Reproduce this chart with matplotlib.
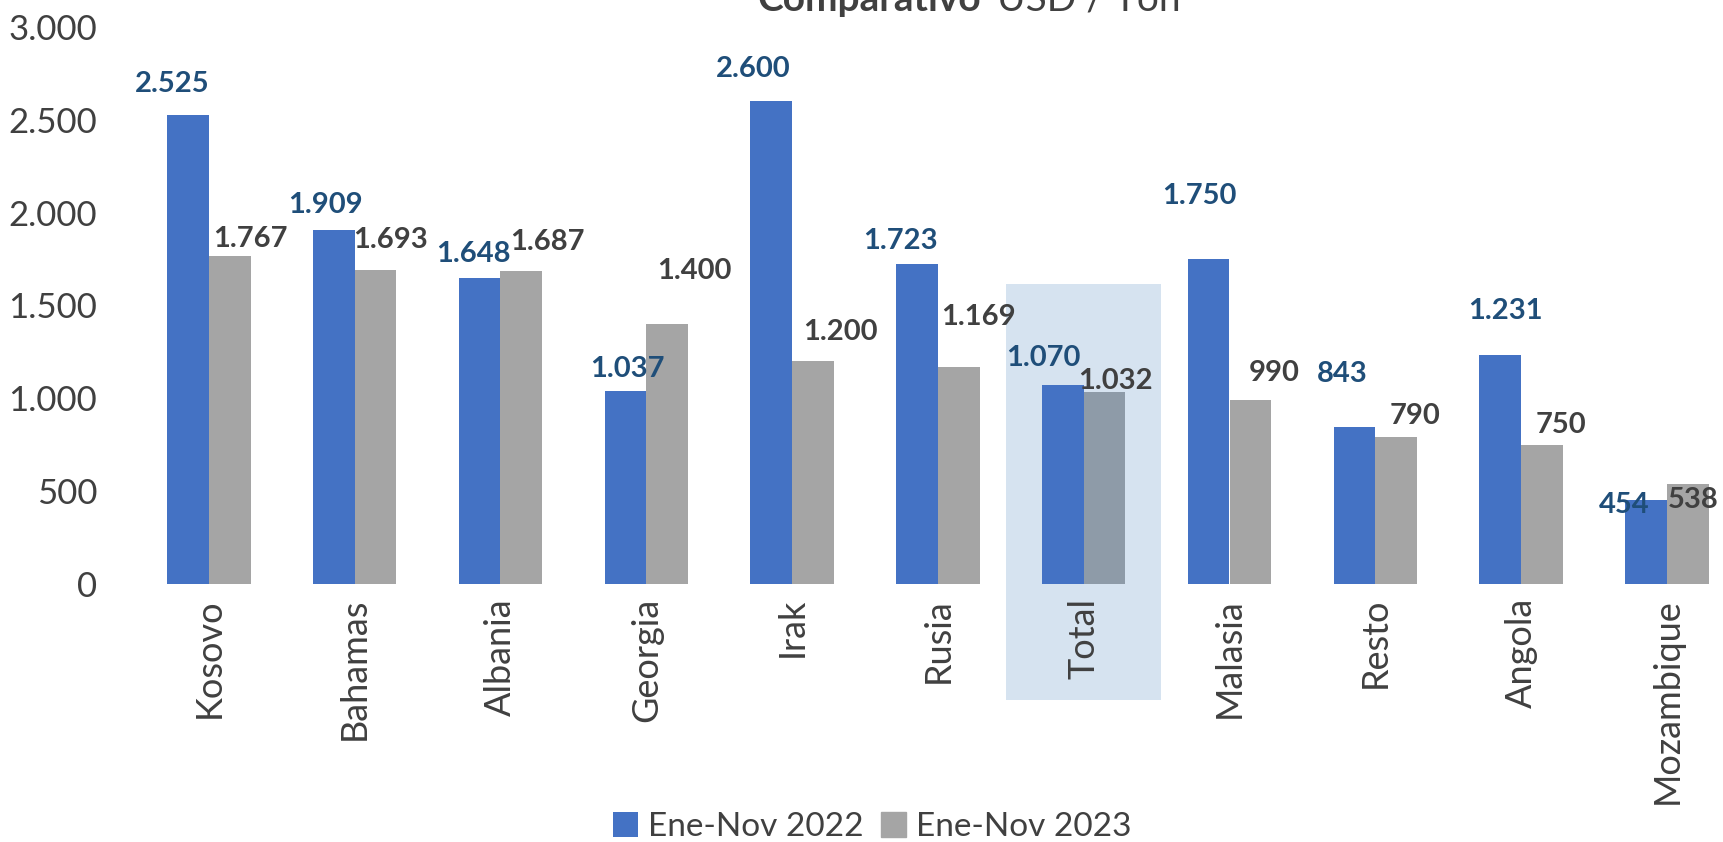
import matplotlib
matplotlib.use("Agg")
import matplotlib.pyplot as plt
from matplotlib.patches import Rectangle
import numpy as np

plt.rcParams['font.family'] = ['Lato', 'DejaVu Sans']

categories = ["Kosovo", "Bahamas", "Albania", "Georgia", "Irak", "Rusia",
              "Total", "Malasia", "Resto", "Angola", "Mozambique"]
values_2022 = [2525, 1909, 1648, 1037, 2600, 1723, 1070, 1750, 843, 1231, 454]
values_2023 = [1767, 1693, 1687, 1400, 1200, 1169, 1032, 990, 790, 750, 538]
series_names = ["Ene-Nov 2022", "Ene-Nov 2023"]
yticks = [0, 500, 1000, 1500, 2000, 2500, 3000]

# label offsets (pixels, relative to bar top centre) - layout only
S = 1724 / 1568
off_2022 = [(-14, 28), (-8, 22), (-6, 22), (2, 20), (-16, 29), (-15, 21),
            (-18, 25), (-8, 57), (-11, 49), (5, 40), (-20, -5)]
off_2023 = [(19, 15), (14, 27), (24, 26), (25, 48), (25, 27), (18, 45),
            (10, 10), (22, 25), (17, 19), (17, 18), (5, -14)]

W, H = 1724, 842
fig = plt.figure(figsize=(W / 100, H / 100), dpi=100)
left_px, bottom_px, top_px = 136, 584, 27
ax = fig.add_axes([left_px / W, 1 - bottom_px / H, 1 - left_px / W,
                   (bottom_px - top_px) / H])

blue = "#4472C4"
gray = "#A5A5A5"
total_gray = "#8E9BA8"
bw = 0.2866
x = np.arange(len(categories))
ti = categories.index("Total")

ax.set_ylim(0, 3000)
ax.set_xlim(-0.5, (W - left_px) / 145.8 - 0.5)

# highlight box for Total
ppu = (bottom_px - top_px) / 3000.0
ybot = (bottom_px - 700) / ppu
ytop = (bottom_px - 284) / ppu
box = Rectangle((ti - 0.53, ybot), 1.06, ytop - ybot, facecolor="#D6E3F0",
                edgecolor="none", zorder=0, clip_on=False)
ax.add_patch(box)

c23 = [total_gray if i == ti else gray for i in range(len(categories))]
ax.bar(x - bw / 2, values_2022, bw, color=blue, label=series_names[0], zorder=2)
ax.bar(x + bw / 2, values_2023, bw, color=c23, label=series_names[1], zorder=2)

for i in range(len(categories)):
    dx, dy = off_2022[i]
    ax.annotate(f"{values_2022[i]:,}".replace(",", "."), (x[i] - bw / 2, values_2022[i]),
                xytext=(dx * S, dy * S), textcoords="offset pixels",
                ha="center", va="center", fontsize=21, fontweight="bold",
                color="#1F4E79", zorder=5)
    dx, dy = off_2023[i]
    ax.annotate(f"{values_2023[i]:,}".replace(",", "."), (x[i] + bw / 2, values_2023[i]),
                xytext=(dx * S, dy * S), textcoords="offset pixels",
                ha="center", va="center", fontsize=21, fontweight="bold",
                color="#404040", zorder=5)

ax.set_yticks(yticks)
ax.set_yticklabels([f"{v:,}".replace(",", ".") for v in yticks], fontsize=25, color="#404040")
ax.set_xticks(x)
ax.set_xticklabels(categories, rotation=90, fontsize=26, color="#404040")
ax.tick_params(length=0)
ax.tick_params(axis="x", pad=10)
ax.tick_params(axis="y", pad=28)
for s in ax.spines.values():
    s.set_visible(False)

leg = fig.legend(loc="center", bbox_to_anchor=(0.506, 1 - 827 / H), ncol=2,
                 frameon=False, fontsize=24, handlelength=0.75, handleheight=0.75,
                 handletextpad=0.3, columnspacing=0.5, labelcolor="#404040")
leg.legend_handles[1].set_color(gray)

# clipped title (cut off at the top edge, as in the reference)
fig.text(981 / W, 1 - 11 / H, "Comparativo", ha="right", va="baseline",
         fontsize=28, fontweight="bold", color="#404040")
fig.text(997 / W, 1 - 11 / H, "USD / Ton", ha="left", va="baseline",
         fontsize=28, color="#404040")

fig.savefig("out.png", dpi=100)
